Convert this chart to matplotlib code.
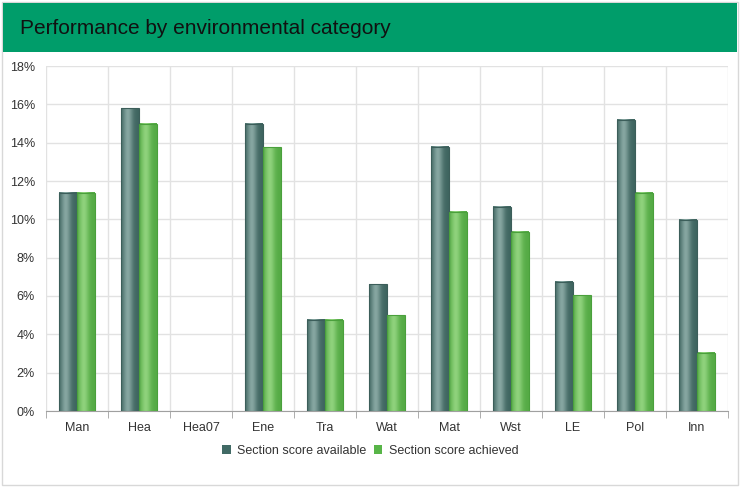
import matplotlib.pyplot as plt
import numpy as np
from matplotlib.patches import Rectangle
from matplotlib.colors import to_rgb
from matplotlib.ticker import FuncFormatter, FixedLocator

plt.rcParams['font.family'] = ['Liberation Sans', 'DejaVu Sans']

categories = ['Man', 'Hea', 'Hea07', 'Ene', 'Tra', 'Wat', 'Mat', 'Wst', 'LE', 'Pol', 'Inn']
available = [11.4, 15.8, 0, 15.0, 4.75, 6.62, 13.8, 10.65, 6.75, 15.2, 9.97]
achieved = [11.4, 15.0, 0, 13.75, 4.75, 5.0, 10.4, 9.35, 6.05, 11.4, 3.05]
series_names = ['Section score available', 'Section score achieved']

# edge colour, light centre colour, outline colour
styles = [('#3f6560', '#86a6a1', '#3c5e5a'),
          ('#55ab45', '#8fd27c', '#4aa03c')]


def gradient_bars(ax, bars, style):
    dark, light, edge = [np.array(to_rgb(c)) for c in style]
    t = np.linspace(0, 1, 40)
    # light band a little left of centre, dark at the sides
    w = np.exp(-((t - 0.38) / 0.28) ** 2)
    row = dark[None, :] * (1 - w[:, None]) + light[None, :] * w[:, None]
    img = row[None, :, :]
    for b in bars:
        h = b.get_height()
        if h <= 0:
            continue
        x0 = b.get_x()
        x1 = x0 + b.get_width()
        ax.imshow(img, extent=[x0, x1, 0, h], aspect='auto', zorder=3,
                  interpolation='bilinear')
        ax.add_patch(Rectangle((x0, 0), b.get_width(), h, fill=False,
                               edgecolor=edge, lw=0.8, zorder=4))


fig = plt.figure(figsize=(7.4, 4.88), dpi=100)

# outer frame and title band
fig.patches.append(Rectangle((2 / 740, 3 / 488), 736 / 740, 483 / 488, transform=fig.transFigure,
                             facecolor='white', edgecolor='#d8d8d8', lw=1, zorder=0))
fig.patches.append(Rectangle((3 / 740, 1 - 52 / 488), 734 / 740, 49 / 488, transform=fig.transFigure,
                             facecolor='#009d6a', edgecolor='none', zorder=1))
fig.text(20 / 740, 1 - 28 / 488, 'Performance by environmental category', fontsize=15,
         color='#111111', va='center', ha='left')

ax = fig.add_axes([46 / 740, 77 / 488, 682 / 740, 345 / 488])
ax.set_zorder(2)
x = np.arange(len(categories))
bw = 0.29
b1 = ax.bar(x - bw / 2, available, bw, color='none', label=series_names[0])
b2 = ax.bar(x + bw / 2, achieved, bw, color='none', label=series_names[1])
gradient_bars(ax, b1, styles[0])
gradient_bars(ax, b2, styles[1])

ax.set_xlim(-0.5, len(categories) - 0.5)
ax.set_ylim(0, 18)
ax.set_yticks(np.arange(0, 19, 2))
ax.yaxis.set_major_formatter(FuncFormatter(lambda v, p: f'{v:.0f}%'))
ax.set_xticks(x)
ax.set_xticklabels(categories)
ax.xaxis.set_minor_locator(FixedLocator(np.arange(-0.5, len(categories), 1)))

ax.grid(axis='y', which='major', color='#e2e2e2', lw=1, zorder=0)
ax.grid(axis='x', which='minor', color='#e2e2e2', lw=1, zorder=0)
ax.set_axisbelow(True)
for s in ['top', 'right', 'left']:
    ax.spines[s].set_visible(False)
ax.spines['bottom'].set_color('#a0a0a0')
ax.tick_params(axis='x', which='major', length=0, pad=8, labelsize=9, labelcolor='#333333')
ax.tick_params(axis='x', which='minor', length=5, color='#a0a0a0', direction='out')
ax.tick_params(axis='y', length=0, pad=8, labelsize=9, labelcolor='#333333')

handles = [Rectangle((0, 0), 1, 1, facecolor='#416a65', edgecolor='none'),
           Rectangle((0, 0), 1, 1, facecolor='#58b548', edgecolor='none')]
fig.legend(handles, series_names, loc='center', bbox_to_anchor=(0.5, 1 - 451 / 488),
           ncol=2, frameon=False, fontsize=9, handlelength=0.7, handleheight=0.7,
           handletextpad=0.5, columnspacing=0.6, labelcolor='#333333')

plt.savefig('out.png', dpi=100)
